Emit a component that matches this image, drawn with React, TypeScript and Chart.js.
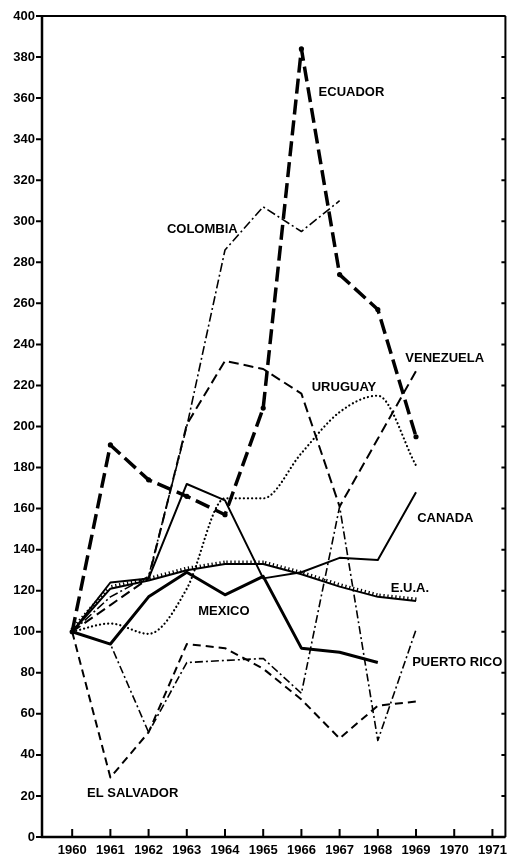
import React, { useEffect, useRef } from 'react';
import { Chart, registerables } from 'chart.js';

Chart.register(...registerables);

const years = [1960, 1961, 1962, 1963, 1964, 1965, 1966, 1967, 1968, 1969];
const axisYears = [1960, 1961, 1962, 1963, 1964, 1965, 1966, 1967, 1968, 1969, 1970, 1971];

const ecuador = [100, 191, 174, 166, 157, 209, 384, 274, 257, 195];
const colombia = [100, 117, 127, 200, 286, 307, 295, 310, null, null];
const venezuela = [100, 113, 126, 201, 232, 228, 216, 161, 194, 227];
const uruguay = [100, 104, 99, 121, 165, 165, 187, 207, 215, 181];
const canada = [100, 124, 126, 172, 164, 126, 129, 136, 135, 168];
const eua = [100, 121, 125, 130, 133, 133, 128, 122, 117, 115];
const mexico = [100, 94, 117, 129, 118, 127, 92, 90, 85, null];
const puertoRico = [100, 94, 51, 85, 86, 87, 70, 161, 47, 101];
const elSalvador = [100, 29, 51, 94, 92, 82, 67, 48, 64, 66];

const labelNames = ['ECUADOR', 'COLOMBIA', 'URUGUAY', 'VENEZUELA', 'CANADA', 'E.U.A.', 'MEXICO', 'PUERTO RICO', 'EL SALVADOR'];
const labelYears = [1966.45, 1962.48, 1966.27, 1968.72, 1969.03, 1968.34, 1963.3, 1968.9, 1960.39];
const labelValues = [363, 296, 219, 233, 155, 121, 110, 85, 21];

const yMin = 0;
const yMax = 400;
const yStep = 20;

const toPoints = (arr: (number | null)[]) =>
  years.map((x, i) => ({ x, y: arr[i] })).filter((p) => p.y !== null);

const FONT = '"Liberation Sans", Arial, sans-serif';

const hatchPlugin = {
  id: 'hatch',
  afterDatasetsDraw(chart: any) {
    const idx = chart.data.datasets.findIndex((d: any) => d.label === 'E.U.A.');
    if (idx < 0) return;
    const meta = chart.getDatasetMeta(idx);
    const pts = meta.data;
    const ctx = chart.ctx;
    ctx.save();
    ctx.strokeStyle = '#000';
    ctx.lineWidth = 1.3;
    ctx.beginPath();
    for (let i = 0; i < pts.length - 1; i++) {
      const a = pts[i];
      const b = pts[i + 1];
      const dx = b.x - a.x;
      const dy = b.y - a.y;
      const len = Math.hypot(dx, dy);
      const ux = dx / len;
      const uy = dy / len;
      const nx = uy;
      const ny = -ux;
      for (let s = 2; s < len; s += 4) {
        const px = a.x + ux * s;
        const py = a.y + uy * s;
        ctx.moveTo(px, py);
        ctx.lineTo(px + nx * 3.5, py + ny * 3.5);
      }
    }
    ctx.stroke();
    ctx.restore();
  },
};

const labelPlugin = {
  id: 'seriesLabels',
  afterDatasetsDraw(chart: any) {
    const ctx = chart.ctx;
    const xs = chart.scales.x;
    const ys = chart.scales.y;
    ctx.save();
    ctx.fillStyle = '#000';
    ctx.font = `bold 13px ${FONT}`;
    ctx.textAlign = 'left';
    ctx.textBaseline = 'middle';
    labelNames.forEach((name, i) => {
      ctx.fillText(name, xs.getPixelForValue(labelYears[i]), ys.getPixelForValue(labelValues[i]));
    });
    ctx.restore();
  },
};

const framePlugin = {
  id: 'frame',
  afterDraw(chart: any) {
    const ctx = chart.ctx;
    const { left, right, top, bottom } = chart.chartArea;
    const xs = chart.scales.x;
    const ys = chart.scales.y;
    ctx.save();
    ctx.strokeStyle = '#000';
    ctx.lineCap = 'butt';
    ctx.lineWidth = 2.5;
    ctx.beginPath();
    ctx.moveTo(left, top);
    ctx.lineTo(left, bottom);
    ctx.lineTo(right, bottom);
    ctx.stroke();
    ctx.lineWidth = 2;
    ctx.beginPath();
    ctx.moveTo(left, top);
    ctx.lineTo(right, top);
    ctx.moveTo(right, top);
    ctx.lineTo(right, bottom);
    ctx.stroke();
    ctx.lineWidth = 2;
    ctx.beginPath();
    for (let v = yMin; v <= yMax; v += yStep) {
      const y = ys.getPixelForValue(v);
      ctx.moveTo(left - 6, y);
      ctx.lineTo(left, y);
      ctx.moveTo(right - 4, y);
      ctx.lineTo(right, y);
    }
    axisYears.forEach((yr) => {
      const x = xs.getPixelForValue(yr);
      ctx.moveTo(x, bottom);
      ctx.lineTo(x, bottom - 8);
    });
    ctx.stroke();
    ctx.restore();
  },
};

export default function App() {
  const canvasRef = useRef<HTMLCanvasElement | null>(null);

  useEffect(() => {
    const canvas = canvasRef.current;
    if (!canvas) return;
    const base = {
      borderColor: '#000',
      backgroundColor: '#000',
      pointRadius: 0,
      fill: false,
      tension: 0,
      borderCapStyle: 'butt',
      borderJoinStyle: 'round',
    };
    const chart = new Chart(canvas, {
      type: 'line',
      data: {
        datasets: [
          { ...base, label: 'ECUADOR', data: toPoints(ecuador), borderWidth: 3.5, borderDash: [15, 6], pointRadius: 2.6, pointBackgroundColor: '#000', pointBorderWidth: 0 },
          { ...base, label: 'COLOMBIA', data: toPoints(colombia), borderWidth: 1.6, borderDash: [9, 3, 2, 3] },
          { ...base, label: 'VENEZUELA', data: toPoints(venezuela), borderWidth: 2, borderDash: [10, 5] },
          { ...base, label: 'URUGUAY', data: toPoints(uruguay), borderWidth: 2.2, borderDash: [0.1, 4], borderCapStyle: 'round', tension: 0.3, cubicInterpolationMode: 'monotone' },
          { ...base, label: 'CANADA', data: toPoints(canada), borderWidth: 2 },
          { ...base, label: 'E.U.A.', data: toPoints(eua), borderWidth: 2 },
          { ...base, label: 'MEXICO', data: toPoints(mexico), borderWidth: 3 },
          { ...base, label: 'PUERTO RICO', data: toPoints(puertoRico), borderWidth: 1.6, borderDash: [8, 3, 2, 3] },
          { ...base, label: 'EL SALVADOR', data: toPoints(elSalvador), borderWidth: 2, borderDash: [8, 5] },
        ] as any,
      },
      options: {
        animation: false,
        responsive: false,
        devicePixelRatio: 1,
        layout: { padding: { top: 16, right: 1, left: 0, bottom: 0 } },
        plugins: {
          legend: { display: false },
          tooltip: { enabled: false },
          title: { display: false },
        },
        scales: {
          x: {
            type: 'linear',
            min: 1959.21,
            max: 1971.34,
            grid: { display: false, drawTicks: false },
            border: { display: false },
            afterBuildTicks: (scale: any) => {
              scale.ticks = axisYears.map((v) => ({ value: v }));
            },
            afterFit: (scale: any) => {
              scale.height = 20;
            },
            ticks: {
              autoSkip: false,
              maxRotation: 0,
              padding: 6,
              color: '#000',
              font: { family: FONT, size: 13, weight: 'bold' },
              callback: (v: any) => String(v),
            },
          },
          y: {
            type: 'linear',
            min: yMin,
            max: yMax,
            grid: { display: false, drawTicks: false },
            border: { display: false },
            afterFit: (scale: any) => {
              scale.width = 42;
            },
            ticks: {
              stepSize: yStep,
              padding: 7,
              color: '#000',
              font: { family: FONT, size: 13, weight: 'bold' },
            },
          },
        },
      } as any,
      plugins: [hatchPlugin, labelPlugin, framePlugin],
    });
    return () => chart.destroy();
  }, []);

  return (
    <div style={{ position: 'fixed', left: 0, top: 0, width: 513, height: 857, background: '#fff' }}>
      <canvas ref={canvasRef} width={513} height={857} style={{ display: 'block' }} />
    </div>
  );
}
